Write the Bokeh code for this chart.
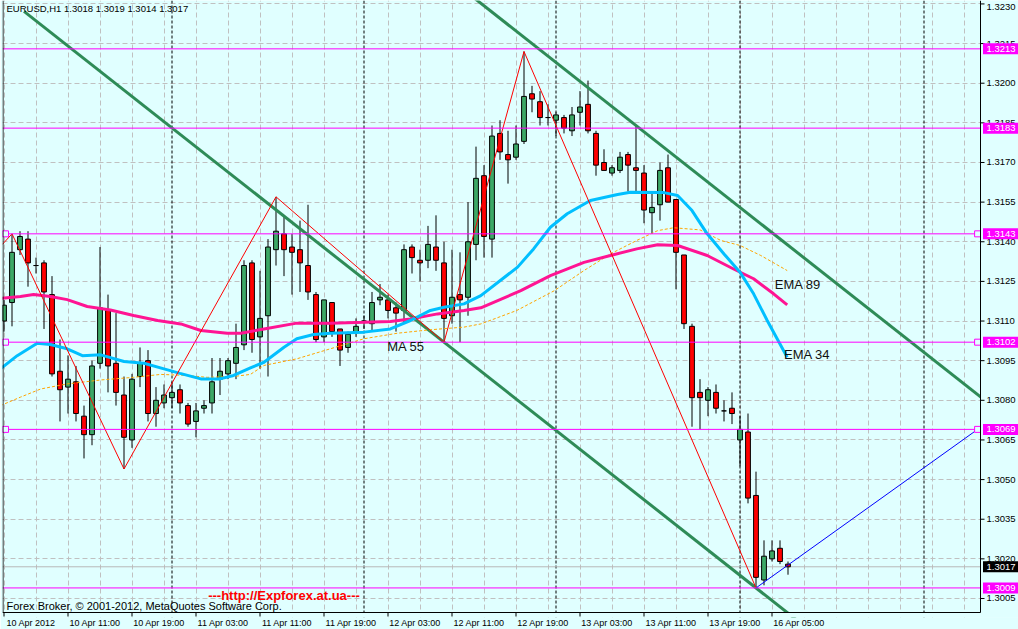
import numpy as np
from bokeh.plotting import figure
from bokeh.models import Span, Label, FixedTicker, Range1d, ColumnDataSource
from bokeh.core.properties import value
from bokeh.embed import file_html
from bokeh.resources import INLINE

# ---------------- data ----------------
symbol = "EURUSD,H1"
opens = [1.3110, 1.3117, 1.3137, 1.3141, 1.3131, 1.3132, 1.3120, 1.3091, 1.3085, 1.3087,
         1.3074, 1.3067, 1.3094, 1.3114, 1.3094, 1.3082, 1.3065, 1.3089, 1.3095, 1.3075,
         1.3079, 1.3081, 1.3084, 1.3078, 1.3072, 1.3077, 1.3079, 1.3088, 1.3090, 1.3094,
         1.3101, 1.3132, 1.3104, 1.3112, 1.3137, 1.3143, 1.3138, 1.3137, 1.3131, 1.3120,
         1.3104, 1.3117, 1.3107, 1.3100, 1.3106, 1.3110, 1.3109, 1.3118, 1.3118, 1.3115,
         1.3114, 1.3138, 1.3133, 1.3133, 1.3138, 1.3132, 1.3112, 1.3120, 1.3119, 1.3139,
         1.3165, 1.3141, 1.3181, 1.3173, 1.3172, 1.3178, 1.3196, 1.3193, 1.3187, 1.3186,
         1.3187, 1.3182, 1.3189, 1.3192, 1.3181, 1.3170, 1.3166, 1.3167, 1.3173, 1.3168,
         1.3166, 1.3151, 1.3154, 1.3168, 1.3156, 1.3135, 1.3108, 1.3083, 1.3080, 1.3083,
         1.3076, 1.3077, 1.3065, 1.3068, 1.3044, 1.3012, 1.3020, 1.3024, 1.3018]
highs = [1.3118, 1.3143, 1.3144, 1.3144, 1.3134, 1.3133, 1.3127, 1.3103, 1.3097, 1.3093,
         1.3078, 1.3095, 1.3138, 1.3120, 1.3113, 1.3089, 1.3090, 1.3100, 1.3099, 1.3085,
         1.3086, 1.3087, 1.3086, 1.3079, 1.3079, 1.3080, 1.3096, 1.3096, 1.3096, 1.3109,
         1.3133, 1.3133, 1.3129, 1.3141, 1.3157, 1.3150, 1.3143, 1.3148, 1.3154, 1.3121,
         1.3118, 1.3117, 1.3107, 1.3106, 1.3111, 1.3112, 1.3121, 1.3124, 1.3120, 1.3117,
         1.3139, 1.3139, 1.3137, 1.3146, 1.3150, 1.3140, 1.3137, 1.3136, 1.3155, 1.3176,
         1.3169, 1.3184, 1.3186, 1.3182, 1.3184, 1.3212, 1.3199, 1.3197, 1.3192, 1.3189,
         1.3188, 1.3191, 1.3197, 1.3201, 1.3182, 1.3175, 1.3169, 1.3174, 1.3174, 1.3184,
         1.3169, 1.3159, 1.3170, 1.3173, 1.3156, 1.3135, 1.3109, 1.3088, 1.3085, 1.3086,
         1.3080, 1.3083, 1.3074, 1.3075, 1.3053, 1.3027, 1.3027, 1.3027, 1.3019]
lows = [1.3106, 1.3108, 1.3135, 1.3123, 1.3128, 1.3107, 1.3089, 1.3072, 1.3075, 1.3072,
        1.3058, 1.3063, 1.3092, 1.3083, 1.3078, 1.3054, 1.3062, 1.3085, 1.3072, 1.3070,
        1.3077, 1.3077, 1.3075, 1.3070, 1.3066, 1.3075, 1.3075, 1.3082, 1.3088, 1.3088,
        1.3099, 1.3098, 1.3092, 1.3089, 1.3131, 1.3127, 1.3120, 1.3121, 1.3118, 1.3102,
        1.3102, 1.3104, 1.3093, 1.3098, 1.3104, 1.3107, 1.3106, 1.3116, 1.3111, 1.3106,
        1.3109, 1.3128, 1.3125, 1.3130, 1.3129, 1.3102, 1.3109, 1.3102, 1.3112, 1.3133,
        1.3134, 1.3134, 1.3171, 1.3162, 1.3171, 1.3177, 1.3189, 1.3184, 1.3184, 1.3180,
        1.3181, 1.3180, 1.3184, 1.3181, 1.3165, 1.3167, 1.3165, 1.3166, 1.3159, 1.3159,
        1.3147, 1.3143, 1.3148, 1.3155, 1.3122, 1.3107, 1.3070, 1.3069, 1.3074, 1.3075,
        1.3072, 1.3071, 1.3055, 1.3041, 1.3009, 1.3010, 1.3019, 1.3018, 1.3014]
closes = [1.3116, 1.3136, 1.3142, 1.3132, 1.3131, 1.3121, 1.3090, 1.3084, 1.3088, 1.3075,
          1.3067, 1.3093, 1.3115, 1.3093, 1.3083, 1.3066, 1.3088, 1.3094, 1.3075, 1.3080,
          1.3082, 1.3083, 1.3079, 1.3071, 1.3076, 1.3078, 1.3087, 1.3091, 1.3095, 1.3100,
          1.3131, 1.3103, 1.3111, 1.3138, 1.3144, 1.3137, 1.3136, 1.3132, 1.3121, 1.3103,
          1.3118, 1.3106, 1.3099, 1.3105, 1.3108, 1.3110, 1.3117, 1.3119, 1.3114, 1.3113,
          1.3137, 1.3134, 1.3132, 1.3139, 1.3133, 1.3111, 1.3119, 1.3118, 1.3140, 1.3164,
          1.3142, 1.3180, 1.3174, 1.3171, 1.3177, 1.3195, 1.3194, 1.3187, 1.3187, 1.3188,
          1.3183, 1.3188, 1.3191, 1.3182, 1.3169, 1.3167, 1.3168, 1.3172, 1.3169, 1.3167,
          1.3152, 1.3153, 1.3167, 1.3155, 1.3136, 1.3109, 1.3081, 1.3081, 1.3084, 1.3077,
          1.3076, 1.3075, 1.3069, 1.3043, 1.3013, 1.3021, 1.3023, 1.3019, 1.3017]

date_tick_bars = [0, 8, 16, 24, 32, 40, 48, 56, 64, 72, 80, 88, 96]
date_tick_labels = ["10 Apr 2012", "10 Apr 11:00", "10 Apr 19:00", "11 Apr 03:00",
                    "11 Apr 11:00", "11 Apr 19:00", "12 Apr 03:00", "12 Apr 11:00",
                    "12 Apr 19:00", "13 Apr 03:00", "13 Apr 11:00", "13 Apr 19:00",
                    "16 Apr 05:00"]
day_separator_bars = [21, 45, 69, 92, 115]
price_ticks = [1.3005, 1.3020, 1.3035, 1.3050, 1.3065, 1.3080, 1.3095, 1.3110,
               1.3125, 1.3140, 1.3155, 1.3170, 1.3185, 1.3200, 1.3215, 1.3230]

level_prices = [1.3213, 1.3183, 1.3143, 1.3102, 1.3069, 1.3009]
level_marked = [False, False, True, True, True, False]
bid_price = 1.3017

zigzag_bars = [-0.2, 1, 15, 34, 55, 65, 94]
zigzag_prices = [1.3139, 1.3143, 1.3054, 1.3157, 1.3102, 1.3212, 1.3009]
blue_bars = [94, 121.7]
blue_prices = [1.3009, 1.3069]
channel_low_bars = [55, 94]
channel_low_prices = [1.3102, 1.3009]
channel_high_bar = 79
channel_high_price = 1.3184

ema34_bars = [-0.44, 1.65, 4.15, 5.8, 7.9, 9.8, 12.1, 15.0, 17.5, 20.0, 22.0, 24.6, 27.0,
              28.7, 30.8, 32.5, 35.0, 36.6, 38.7, 40.8, 45.0, 48.3, 50.8, 53.3, 55.0, 57.5,
              59.6, 64.2, 66.2, 68.3, 70.4, 73.3, 76.7, 78.3, 82.5, 84.2, 86.0, 87.9, 90.0,
              92.0, 93.7, 95.4, 97.9]
ema34_vals = [1.30919, 1.30969, 1.31016, 1.31011, 1.30995, 1.30969, 1.30972, 1.30947,
              1.30940, 1.30919, 1.30902, 1.30881, 1.30881, 1.30894, 1.30923, 1.30944,
              1.31001, 1.31033, 1.31049, 1.31054, 1.31058, 1.31070, 1.31102, 1.31140,
              1.31152, 1.31165, 1.31196, 1.31304, 1.31373, 1.31455, 1.31506, 1.31556,
              1.31579, 1.31587, 1.31586, 1.31575, 1.31518, 1.31430, 1.31354, 1.31285,
              1.31203, 1.31102, 1.30963]
ema89_bars = [-0.44, 2.06, 3.7, 5.8, 7.9, 10.4, 13.3, 16.2, 19.2, 22.1, 24.6, 27.9, 29.6,
              32.5, 36.6, 40.8, 45.0, 48.3, 50.8, 54.2, 57.5, 59.6, 64.6, 68.3, 72.5, 75.8,
              79.1, 81.7, 84.2, 87.9, 91.2, 93.7, 96.2, 97.9]
ema89_vals = [1.31186, 1.31193, 1.31200, 1.31193, 1.31181, 1.31155, 1.31142, 1.31121,
              1.31102, 1.31089, 1.31064, 1.31054, 1.31054, 1.31070, 1.31092, 1.31092,
              1.31095, 1.31098, 1.31108, 1.31127, 1.31140, 1.31150, 1.31215, 1.31272,
              1.31322, 1.31348, 1.31373, 1.31389, 1.31386, 1.31348, 1.31297, 1.31260,
              1.31203, 1.31161]
ma55_bars = [-0.44, 2.06, 4.6, 7.9, 12.1, 16.2, 19.6, 22.9, 25.4, 28.7, 30.8, 32.5, 36.6,
             40.8, 45.0, 49.2, 53.3, 57.5, 59.6, 64.1, 68.8, 72.5, 75.8, 79.1, 81.7, 83.7,
             87.0, 89.6, 92.0, 94.6, 97.9]
ma55_vals = [1.30780, 1.30812, 1.30843, 1.30862, 1.30877, 1.30887, 1.30898, 1.30894,
             1.30887, 1.30890, 1.30898, 1.30932, 1.30957, 1.30995, 1.31033, 1.31054,
             1.31067, 1.31077, 1.31089, 1.31140, 1.31215, 1.31291, 1.31354, 1.31405,
             1.31442, 1.31453, 1.31445, 1.31405, 1.31386, 1.31348, 1.31291]

line_labels = ["MA 55", "EMA 89", "EMA 34"]
watermark = "---http://Expforex.at.ua---"
copyright_text = "Forex Broker, \u00a9 2001-2012, MetaQuotes Software Corp."

# ---------------- layout / style ----------------
BG = "#E0FFFF"
GREEN = "#3CA866"
RED = "#FF0000"
CHAN = "#2E8B57"
MAG = "#FF00FF"
FONT = "Liberation Sans"

X0, X1 = -0.1875, 122.0625        # chart area (bars)
Y0, Y1 = 1.29997, 1.32313         # chart area (prices)
CW, CH = 978, 612                 # chart area in px
FW, FH = 1016, 617                # frame incl. price-scale strip and tick strip
dxp = (X1 - X0) / CW
dyp = (Y1 - Y0) / CH
XF = X0 + FW * dxp
YF = Y1 - FH * dyp

p = figure(frame_width=FW, frame_height=FH, x_range=Range1d(X0, XF), y_range=Range1d(YF, Y1),
           output_backend="svg", toolbar_location=None, y_axis_location=None,
           min_border_left=2, min_border_right=0, min_border_top=0, min_border_bottom=12)
p.background_fill_color = BG
p.border_fill_color = BG
p.outline_line_color = None

# grid
p.xgrid.ticker = FixedTicker(ticks=list(range(0, 124, 4)))
p.ygrid.ticker = FixedTicker(ticks=price_ticks)
for g in (p.xgrid, p.ygrid):
    g.grid_line_color = "#C0C0C0"
    g.grid_line_dash = "5 3"
    g.grid_line_width = 1

# bottom axis: date labels, left-aligned at their bars like MT4
SHIFT = 3.375
p.xaxis.ticker = FixedTicker(ticks=[b + SHIFT for b in date_tick_bars])
p.xaxis.major_label_overrides = {b + SHIFT: t for b, t in zip(date_tick_bars, date_tick_labels)}
p.xaxis.major_label_text_font = FONT
p.xaxis.major_label_text_font_size = "9px"
p.xaxis.major_label_text_color = "black"
p.xaxis.major_label_standoff = 0
p.xaxis.major_tick_in = 0
p.xaxis.major_tick_out = 0
p.xaxis.major_tick_line_color = None
p.xaxis.minor_tick_line_color = None
p.xaxis.axis_line_color = None

# day separators
for b in day_separator_bars:
    p.add_layout(Span(location=b, dimension="height", line_color="black",
                      line_dash="3 2", line_width=1, level="underlay"))

# bid line
p.segment(x0=[X0], y0=[bid_price], x1=[X1], y1=[bid_price], line_color="#B8B8B8", line_width=1)

# candles
o = np.array(opens); h = np.array(highs); l = np.array(lows); c = np.array(closes)
idx = np.arange(len(o))
src = ColumnDataSource(dict(x=idx, h=h, l=l, top=np.maximum(o, c), bottom=np.minimum(o, c),
                            color=np.where(c >= o, GREEN, RED)))
p.segment(x0="x", y0="l", x1="x", y1="h", source=src, line_color="black", line_width=1)
p.vbar(x="x", width=0.6, top="top", bottom="bottom", fill_color="color",
       line_color="black", line_width=1, source=src)

# channel lines
slope = (channel_low_prices[1] - channel_low_prices[0]) / (channel_low_bars[1] - channel_low_bars[0])
ax = [2.5, X1 + 5]
ay = [channel_low_prices[0] + slope * (x - channel_low_bars[0]) for x in ax]
p.line(ax, ay, line_color=CHAN, line_width=3)
bx = [40, X1 + 5]
by = [channel_high_price + slope * (x - channel_high_bar) for x in bx]
p.line(bx, by, line_color=CHAN, line_width=3)

# moving averages
p.line(ma55_bars, ma55_vals, line_color="#FFA500", line_width=1, line_dash="3 2")
p.line(ema89_bars, ema89_vals, line_color="#FF1493", line_width=3)
p.line(ema34_bars, ema34_vals, line_color="#00BFFF", line_width=3)

# zigzag and blue trend line
p.line(zigzag_bars, zigzag_prices, line_color="#FF0000", line_width=1)
p.line(blue_bars, blue_prices, line_color="#0000FF", line_width=1)

# horizontal levels
p.segment(x0=[X0] * len(level_prices), y0=level_prices, x1=[X1] * len(level_prices),
          y1=level_prices, line_color=MAG, line_width=1)
mk_y = [lv for lv, mk in zip(level_prices, level_marked) if mk]
p.scatter([0.19] * len(mk_y), mk_y, marker="square", size=6, fill_color=BG,
          line_color=MAG, line_width=1)
p.scatter([121.7] * len(mk_y), mk_y, marker="square", size=6, fill_color=BG,
          line_color=MAG, line_width=1)

# cover the price-scale strip and the tick strip
p.quad(left=[X1, X0], right=[XF, XF], bottom=[YF, YF], top=[Y1, Y0],
       fill_color=BG, line_color=None)

# chart border lines
p.segment(x0=[X0 + 0.5 * dxp, X1, X0], y0=[Y0, Y0, Y0], x1=[X0 + 0.5 * dxp, X1, X1],
          y1=[Y1, Y1, Y0], line_color="black", line_width=1)

# date tick marks
p.segment(x0=date_tick_bars, y0=[Y0] * len(date_tick_bars), x1=date_tick_bars,
          y1=[Y0 - 4 * dyp] * len(date_tick_bars), line_color="black", line_width=1)

# price scale: ticks and labels
p.segment(x0=[X1] * len(price_ticks), y0=price_ticks, x1=[X1 + 4 * dxp] * len(price_ticks),
          y1=price_ticks, line_color="black", line_width=1)
label_y = [min(t, Y1 - 6 * dyp) for t in price_ticks]
p.text(x=[X1 + 6 * dxp] * len(price_ticks), y=label_y,
       text=["%.4f" % t for t in price_ticks], text_font=value(FONT), text_font_size="9.5px",
       text_color="black", text_align="left", text_baseline="middle")

# price boxes on the price scale
box_prices = level_prices + [bid_price]
box_colors = [MAG] * len(level_prices) + ["black"]
p.rect(x=[X1 + 20 * dxp] * len(box_prices), y=box_prices, width=35 * dxp, height=11 * dyp,
       fill_color=box_colors, line_color=None)
p.text(x=[X1 + 6 * dxp] * len(box_prices), y=box_prices,
       text=["%.4f" % v for v in box_prices], text_font=value(FONT), text_font_size="9.5px",
       text_color="white", text_align="left", text_baseline="middle")

# text labels on chart
label_pos = [(47.9, 1.31005), (96.35, 1.31238), (97.5, 1.30973)]
for t, (lx, ly) in zip(line_labels, label_pos):
    p.add_layout(Label(x=lx, y=ly, text=t, text_font=FONT, text_font_size="13px",
                       text_color="#111111", text_align="left", text_baseline="middle"))

p.add_layout(Label(x=35, y=1.30061, text=watermark, text_font=FONT, text_font_size="13px",
                   text_font_style="bold", text_color="#FF0000", text_align="center",
                   text_baseline="middle"))
p.add_layout(Label(x=X0 + 4 * dxp, y=1.30020, text=copyright_text, text_font=FONT,
                   text_font_size="11px", text_color="black", text_align="left",
                   text_baseline="middle"))
title = "%s  %.4f %.4f %.4f %.4f" % (symbol, opens[-1], highs[-1], lows[-1], closes[-1])
p.add_layout(Label(x=X0 + 4 * dxp, y=Y1 - 8 * dyp, text=title, text_font=FONT,
                   text_font_size="9.5px", text_color="black", text_align="left",
                   text_baseline="middle"))

open("out.html", "w").write(file_html(p, INLINE))
